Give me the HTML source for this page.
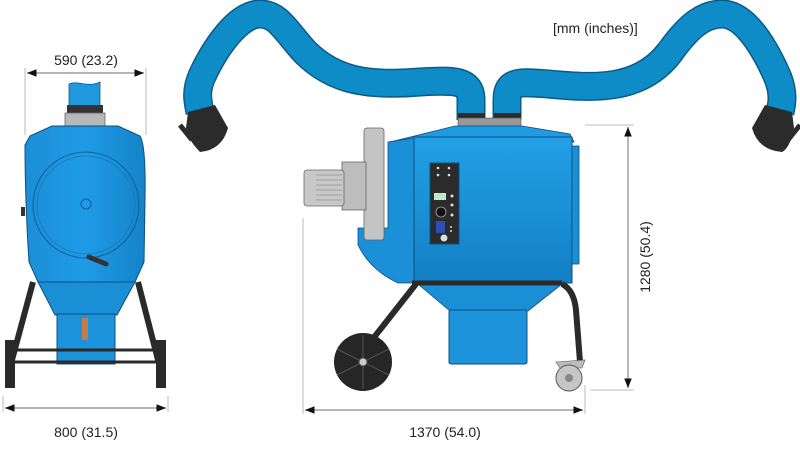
<!DOCTYPE html>
<html><head><meta charset="utf-8"><style>
html,body{margin:0;padding:0;background:#fff;}
svg{display:block;}
text{font-family:"Liberation Sans",Arial,sans-serif;fill:#222;}
</style></head><body>
<svg width="800" height="450" viewBox="0 0 800 450" xmlns="http://www.w3.org/2000/svg">
<defs>
<marker id="a" viewBox="0 0 10 10" refX="10" refY="5" markerWidth="8" markerHeight="8" orient="auto-start-reverse"><path d="M0,1 L10,5 L0,9 z" fill="#111"/></marker>
<linearGradient id="bl" x1="0" y1="0" x2="1" y2="0"><stop offset="0" stop-color="#1c8ed6"/><stop offset="0.5" stop-color="#1f9be6"/><stop offset="1" stop-color="#1583c8"/></linearGradient>
<linearGradient id="bv" x1="0" y1="0" x2="0" y2="1"><stop offset="0" stop-color="#22a0e6"/><stop offset="1" stop-color="#137fc4"/></linearGradient>
</defs>

<!-- ===== LEFT UNIT ===== -->
<line x1="25" y1="68" x2="25" y2="135" stroke="#bbb" stroke-width="1"/>
<line x1="146" y1="68" x2="146" y2="135" stroke="#bbb" stroke-width="1"/>
<line x1="27" y1="73" x2="144" y2="73" stroke="#888" stroke-width="1.2" marker-start="url(#a)" marker-end="url(#a)"/>
<text x="86" y="65" font-size="14" text-anchor="middle">590 (23.2)</text>

<path d="M69,84 C78,80 88,88 100,82 L100,106 L69,106 z" fill="#1f98e0" stroke="#0d5c8e" stroke-width="0.8"/>
<rect x="67" y="105" width="36" height="8" fill="#333"/>
<rect x="65" y="113" width="40" height="16" fill="#b8b8b8" stroke="#666" stroke-width="0.8"/>
<path d="M30,136 L52,126 L118,126 L140,136 Q146,145 145,200 L144,262 L135,282 L38,282 L29,262 Q25,200 25,145 z" fill="url(#bl)" stroke="#0d4f7c" stroke-width="1"/>
<path d="M38,282 L135,282 L117,315 L55,315 z" fill="#1a8fd6" stroke="#0d4f7c" stroke-width="1"/>
<rect x="57" y="314" width="58" height="50" fill="#1c93db" stroke="#0d4f7c" stroke-width="1"/>
<circle cx="86" cy="205" r="53" fill="none" stroke="#0f5f95" stroke-width="1"/>
<circle cx="86" cy="205" r="49" fill="none" stroke="#1576b5" stroke-width="0.7"/>
<circle cx="86" cy="204" r="5" fill="none" stroke="#0f5f95" stroke-width="1"/>
<path d="M89,257 L106,264" stroke="#333" stroke-width="5" stroke-linecap="round"/>
<rect x="82" y="318" width="6" height="22" fill="#c87a4a"/>
<rect x="21" y="207" width="4" height="9" fill="#333"/>
<path d="M33,282 L12,360 M138,282 L158,360" stroke="#2a2a2a" stroke-width="6" fill="none"/>
<path d="M15,350 L157,350 M15,362 L157,362" stroke="#2a2a2a" stroke-width="3"/>
<rect x="5" y="340" width="10" height="48" fill="#2a2a2a"/>
<rect x="156" y="340" width="10" height="48" fill="#2a2a2a"/>
<line x1="3" y1="396" x2="3" y2="412" stroke="#bbb"/>
<line x1="168" y1="396" x2="168" y2="412" stroke="#bbb"/>
<line x1="5" y1="408" x2="166" y2="408" stroke="#888" stroke-width="1.2" marker-start="url(#a)" marker-end="url(#a)"/>
<text x="86" y="437" font-size="14" text-anchor="middle">800 (31.5)</text>

<!-- ===== HOSES ===== -->
<g fill="none">
<path d="M471,120 L471,100 C471,80 455,80 420,82 C370,86 335,82 305,52 C285,30 278,14 260,14 C238,14 215,48 202,76 C195,92 198,102 200,112" stroke="#0b5b85" stroke-width="29"/>
<path d="M471,120 L471,100 C471,80 455,80 420,82 C370,86 335,82 305,52 C285,30 278,14 260,14 C238,14 215,48 202,76 C195,92 198,102 200,112" stroke="#0e8cc8" stroke-width="26"/>
<path d="M507,120 L507,100 C507,80 520,82 548,84 C592,88 640,92 670,52 C690,24 705,14 722,14 C745,14 765,48 778,78 C784,94 782,104 780,112" stroke="#0b5b85" stroke-width="29"/>
<path d="M507,120 L507,100 C507,80 520,82 548,84 C592,88 640,92 670,52 C690,24 705,14 722,14 C745,14 765,48 778,78 C784,94 782,104 780,112" stroke="#0e8cc8" stroke-width="26"/>
</g>
<!-- hoods -->
<path d="M188,112 L215,105 L228,128 Q222,150 200,152 Q188,140 186,128 z" fill="#2b2b2b"/>
<path d="M180,125 L192,140" stroke="#2b2b2b" stroke-width="5"/>
<path d="M765,105 L792,112 L794,128 Q790,148 782,152 Q758,150 752,128 z" fill="#2b2b2b"/>
<path d="M800,125 L788,140" stroke="#2b2b2b" stroke-width="5"/>

<text x="553" y="33" font-size="14">[mm (inches)]</text>

<!-- ===== MAIN UNIT ===== -->
<line x1="303" y1="218" x2="303" y2="414" stroke="#bbb"/>
<line x1="585" y1="385" x2="585" y2="414" stroke="#bbb"/>
<line x1="305" y1="410" x2="583" y2="410" stroke="#888" stroke-width="1.2" marker-start="url(#a)" marker-end="url(#a)"/>
<text x="445" y="437" font-size="14" text-anchor="middle">1370 (54.0)</text>
<line x1="585" y1="125" x2="634" y2="125" stroke="#bbb"/>
<line x1="590" y1="390" x2="634" y2="390" stroke="#bbb"/>
<line x1="628" y1="127" x2="628" y2="388" stroke="#888" stroke-width="1.2" marker-start="url(#a)" marker-end="url(#a)"/>
<text x="0" y="0" font-size="14" text-anchor="middle" transform="translate(650,257) rotate(-90)">1280 (50.4)</text>

<rect x="458" y="113" width="27" height="5" fill="#2b2b2b"/>
<rect x="494" y="113" width="27" height="5" fill="#2b2b2b"/>
<rect x="458" y="118" width="63" height="8" fill="#999" stroke="#555" stroke-width="0.6"/>
<path d="M390,142 L455,126 L522,126 L570,134 L574,142 L414,142 z" fill="#1f9be4" stroke="#0d4f7c" stroke-width="0.8"/>
<path d="M388,142 L414,138 L414,283 L398,283 Q370,270 358,245 L358,228 L388,228 z" fill="#1b8fd7" stroke="#0d4f7c" stroke-width="0.8"/>
<rect x="414" y="137" width="158" height="146" fill="url(#bv)" stroke="#0d4f7c" stroke-width="1"/>
<rect x="572" y="146" width="7" height="118" fill="#1a8fd6" stroke="#0d4f7c" stroke-width="0.8"/>
<rect x="364" y="128" width="20" height="112" rx="3" fill="#c4c4c4" stroke="#666" stroke-width="0.8"/>
<rect x="342" y="162" width="24" height="48" fill="#bdbdbd" stroke="#666" stroke-width="0.8"/>
<rect x="304" y="170" width="40" height="36" rx="3" fill="#c8c8c8" stroke="#666" stroke-width="0.8"/>
<g stroke="#777" stroke-width="0.6">
<line x1="316" y1="175" x2="342" y2="175"/><line x1="316" y1="180" x2="342" y2="180"/><line x1="316" y1="185" x2="342" y2="185"/><line x1="316" y1="190" x2="342" y2="190"/><line x1="316" y1="195" x2="342" y2="195"/><line x1="316" y1="200" x2="342" y2="200"/></g>
<rect x="430" y="163" width="29" height="81" fill="#2b2b2b" stroke="#0d4f7c"/>
<rect x="434" y="193" width="12" height="7" fill="#bfe7c9"/>
<circle cx="441" cy="212" r="5" fill="#111" stroke="#aaa" stroke-width="0.8"/>
<rect x="436" y="221" width="9" height="12" fill="#2a4fb5"/>
<circle cx="444" cy="238" r="3.5" fill="#ddd"/>
<g fill="#ddd"><circle cx="438" cy="168" r="1.3"/><circle cx="449" cy="168" r="1.3"/><circle cx="438" cy="175" r="1.3"/><circle cx="449" cy="175" r="1.3"/><circle cx="452" cy="196" r="1.5"/><circle cx="452" cy="205" r="1.5"/><circle cx="452" cy="215" r="1.5"/><circle cx="451" cy="227" r="1"/><circle cx="451" cy="231" r="1"/></g>
<path d="M418,284 L562,284 L528,311 L450,311 z" fill="#1a8fd6" stroke="#0d4f7c" stroke-width="0.8"/>
<rect x="449" y="310" width="78" height="54" rx="2" fill="#1c93db" stroke="#0d4f7c" stroke-width="1"/>
<path d="M412,283 L562,283" stroke="#2a2a2a" stroke-width="5"/>
<path d="M416,284 L368,345" stroke="#2a2a2a" stroke-width="6" fill="none"/>
<path d="M562,284 Q574,290 576,310 L580,362" stroke="#2a2a2a" stroke-width="6" fill="none"/>
<circle cx="363" cy="362" r="29" fill="#262626"/>
<g stroke="#555" stroke-width="1"><line x1="363" y1="335" x2="363" y2="389"/><line x1="337" y1="349" x2="389" y2="375"/><line x1="337" y1="375" x2="389" y2="349"/></g>
<circle cx="363" cy="362" r="4" fill="#ccc" stroke="#555"/>
<path d="M556,362 L585,360 L582,368 L560,368 z" fill="#bbb" stroke="#555" stroke-width="0.6"/>
<circle cx="569" cy="378" r="13" fill="#c6c6c6" stroke="#555"/>
<circle cx="569" cy="378" r="4" fill="#888"/>
</svg>
</body></html>
